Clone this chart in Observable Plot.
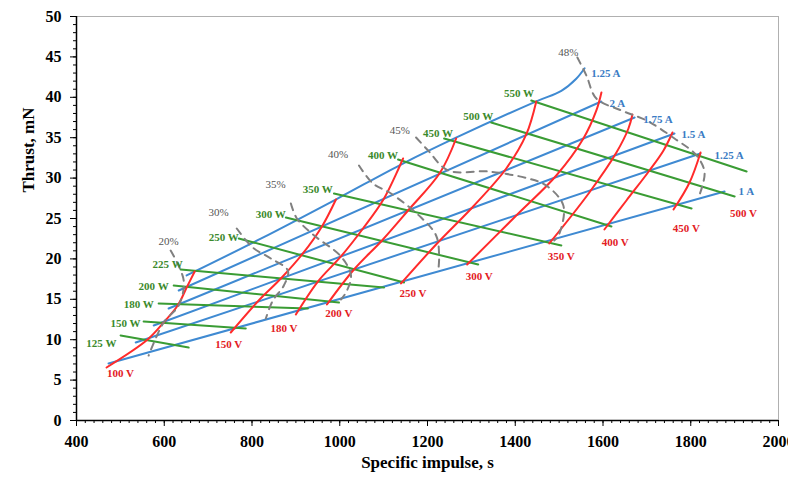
<!DOCTYPE html>
<html><head><meta charset="utf-8">
<script src="https://cdn.jsdelivr.net/npm/d3@7"></script>
<script src="https://cdn.jsdelivr.net/npm/@observablehq/plot@0.6"></script>
<style>body{margin:0;background:#fff}</style>
</head><body><div id="chart"></div>
<script>
// ---- data (Specific impulse s, Thrust mN) ----
const xTickValues = [400, 600, 800, 1000, 1200, 1400, 1600, 1800, 2000];
const yTickValues = [0, 5, 10, 15, 20, 25, 30, 35, 40, 45, 50];

const currentLabels = ["1 A", "1.25 A", "1.5 A", "1.75 A", "2 A", "1.25 A"];
const currentLines = [
  [[473, 7.05], [1877, 28.34]],
  [[535, 9.65], [1822, 33.04]],
  [[576, 11.76], [1763, 35.52]],
  [[610, 13.86], [1672, 37.5]],
  [[633, 16.09], [1596, 39.48]],
  [[651, 17.95], [820, 22.5], [991, 27.35], [1144, 31.8], [1265, 35.0], [1448, 39.5], [1505, 40.8], [1539, 42.3], [1558, 43.6]]
];
const currentLabelPos = [[1909, 28.3], [1854, 32.8], [1779, 35.4], [1692, 37.3], [1615, 39.2], [1573, 42.9]];

const voltageLabels = ["100 V", "150 V", "180 V", "200 V", "250 V", "300 V", "350 V", "400 V", "450 V", "500 V"];
const voltageLines = [
  [[468.5, 6.56], [562.1, 10.02], [598.6, 12.13], [630.6, 14.23], [651.1, 16.46], [669.4, 18.44]],
  [[751.6, 10.89], [813.2, 14.73], [865.8, 17.57], [916.0, 20.67], [959.4, 24.01], [991.3, 27.35]],
  [[900.0, 13.12], [950.2, 17.20], [1002.7, 20.30], [1053.0, 23.76], [1100.9, 27.47], [1144.3, 32.43]],
  [[970.8, 14.36], [1032.4, 18.69], [1096.3, 22.28], [1155.7, 25.99], [1228.8, 30.69], [1265.3, 34.90]],
  [[1139.7, 16.96], [1219.6, 21.78], [1304.1, 26.49], [1379.5, 31.19], [1425.1, 35.40], [1447.9, 39.48]],
  [[1290.4, 19.31], [1402.3, 25.37], [1493.6, 30.32], [1555.3, 34.90], [1584.9, 38.37], [1596.4, 40.59]],
  [[1477.6, 21.91], [1568.9, 28.22], [1630.6, 33.17], [1658.0, 36.14], [1667.1, 37.87]],
  [[1603.2, 23.64], [1653.4, 27.23], [1705.9, 30.94], [1737.9, 33.42], [1758.4, 35.64]],
  [[1760.7, 26.11], [1797.3, 29.46], [1822.4, 33.17]]
];
const voltageLabelPos = [[500, 5.8], [747, 9.4], [873, 11.4], [998, 13.2], [1167, 15.7], [1318, 17.8], [1505, 20.3], [1628, 22.0], [1790, 23.8], [1920, 25.6]];

const powerLabels = ["125 W", "150 W", "180 W", "200 W", "225 W", "250 W", "300 W", "350 W", "400 W", "450 W", "500 W", "550 W"];
const powerLines = [
  [[500.5, 10.52], [655.7, 9.03]],
  [[553.0, 12.25], [785.8, 11.39]],
  [[587.2, 14.48], [927.4, 13.86]],
  [[621.5, 16.71], [998.2, 14.60]],
  [[637.4, 18.69], [1100.9, 16.46]],
  [[769.9, 22.52], [1146.6, 17.08]],
  [[877.2, 25.12], [1315.5, 19.31]],
  [[986.8, 28.09], [1505.0, 21.66]],
  [[1132.9, 32.30], [1619.2, 24.01]],
  [[1237.9, 34.90], [1801.8, 26.24]],
  [[1345.2, 36.88], [1900.0, 27.72]],
  [[1436.5, 39.60], [1927.4, 30.82]]
];
const powerLabelPos = [[491, 9.5], [546, 12.0], [576, 14.4], [610, 16.6], [642, 19.3], [770, 22.7], [877, 25.5], [984, 28.6], [1133, 32.8], [1258, 35.5], [1350, 37.6], [1443, 40.5]];

const effLabels = ["20%", "30%", "35%", "40%", "45%", "48%"];
const effLines = [
  [[614.6, 21.04], [644.3, 17.33], [632.9, 14.23], [598.6, 12.13], [564.4, 8.04]],
  [[765.3, 23.76], [801.8, 21.41], [842.9, 20.05], [881.7, 18.56], [872.6, 16.71], [847.5, 14.85], [831.5, 12.62]],
  [[888.6, 26.86], [902.3, 25.0], [938.8, 23.02], [1002.7, 20.30], [1025.6, 17.95], [1014.2, 15.84], [1002.7, 14.98]],
  [[1043.8, 31.56], [1075.8, 29.33], [1116.9, 28.09], [1185.4, 25.12], [1219.6, 22.90], [1226.5, 20.42], [1224.2, 18.32]],
  [[1174.0, 35.02], [1201.4, 33.42], [1247.0, 30.94], [1338.4, 30.82], [1429.7, 29.95], [1470.8, 29.08], [1509.6, 26.61], [1500.5, 23.14], [1489.0, 22.28]],
  [[1541.6, 44.93], [1562.1, 42.70], [1584.9, 39.85], [1642.0, 38.37], [1699.1, 37.13], [1763.0, 34.90], [1813.2, 32.80], [1831.5, 30.69], [1817.8, 27.60]]
];
const effLabelPos = [[610, 22.2], [724, 25.7], [854, 29.2], [996, 32.9], [1137, 35.9], [1521, 45.5]];

// ---- helpers ----
const flat = (names, lines) => lines.flatMap((pts, i) => pts.map(([x, y]) => ({id: i + ":" + names[i], x, y})));
const labels = (names, pos) => pos.map(([x, y], i) => ({x, y, text: names[i]}));

const BLUE = "#3f8ad2", RED = "#ff2b2b", GREEN = "#3a9c34", GRAY = "#808080";
const serif = "'Liberation Serif', 'Times New Roman', serif";
const minorX = d3.range(400, 2001, 20);
const minorY = d3.range(0, 51, 1);

const chart = Plot.plot({
  width: 788, height: 480,
  marginLeft: 76, marginRight: 10, marginTop: 16, marginBottom: 60,
  x: {domain: [400, 2000]},
  y: {domain: [0, 50]},
  style: {fontFamily: serif, background: "#fff"},
  marks: [
    Plot.frame({stroke: "#b0b0b0", strokeWidth: 1}),
    Plot.axisX(minorX, {tickSize: 3, tickFormat: () => "", label: null, stroke: "#000"}),
    Plot.axisY(minorY, {tickSize: 3, tickFormat: () => "", label: null, stroke: "#000"}),
    Plot.axisX(xTickValues, {tickSize: 6, tickPadding: 9, tickFormat: d => String(d), fontSize: 16, fontWeight: "bold", label: null, stroke: "#000", fill: "#000"}),
    Plot.axisY(yTickValues, {tickSize: 6, tickPadding: 9, tickFormat: d => String(d), fontSize: 16, fontWeight: "bold", label: null, stroke: "#000", fill: "#000"}),
    Plot.ruleX([400], {stroke: "#000", strokeWidth: 1.5}),
    Plot.ruleY([0], {stroke: "#000", strokeWidth: 1.5}),
    Plot.line(flat(currentLabels, currentLines), {x: "x", y: "y", z: "id", stroke: BLUE, strokeWidth: 2, curve: "catmull-rom"}),
    Plot.line(flat(powerLabels, powerLines), {x: "x", y: "y", z: "id", stroke: GREEN, strokeWidth: 2}),
    Plot.line(flat(voltageLabels.slice(0, voltageLines.length), voltageLines), {x: "x", y: "y", z: "id", stroke: RED, strokeWidth: 2, curve: "catmull-rom"}),
    Plot.line(flat(effLabels, effLines), {x: "x", y: "y", z: "id", stroke: GRAY, strokeWidth: 2, strokeDasharray: "7,6", curve: "catmull-rom"}),
    Plot.text(labels(currentLabels, currentLabelPos), {x: "x", y: "y", text: "text", textAnchor: "start", fill: "#3b7cc4", fontSize: 11, fontWeight: "bold"}),
    Plot.text(labels(voltageLabels, voltageLabelPos), {x: "x", y: "y", text: "text", textAnchor: "middle", fill: "#e3201f", fontSize: 11, fontWeight: "bold"}),
    Plot.text(labels(powerLabels, powerLabelPos), {x: "x", y: "y", text: "text", textAnchor: "end", fill: "#3b8a2c", fontSize: 11, fontWeight: "bold"}),
    Plot.text(labels(effLabels, effLabelPos), {x: "x", y: "y", text: "text", textAnchor: "middle", fill: "#555", fontSize: 11}),
    Plot.text(["Specific impulse, s"], {frameAnchor: "bottom", dy: 47, fontSize: 17, fontWeight: "bold", fill: "#000"}),
    Plot.text(["Thrust, mN"], {frameAnchor: "left", dx: -48, dy: -26, rotate: -90, fontSize: 17, fontWeight: "bold", fill: "#000"})
  ]
});
document.getElementById("chart").appendChild(chart);
</script>
</body></html>
